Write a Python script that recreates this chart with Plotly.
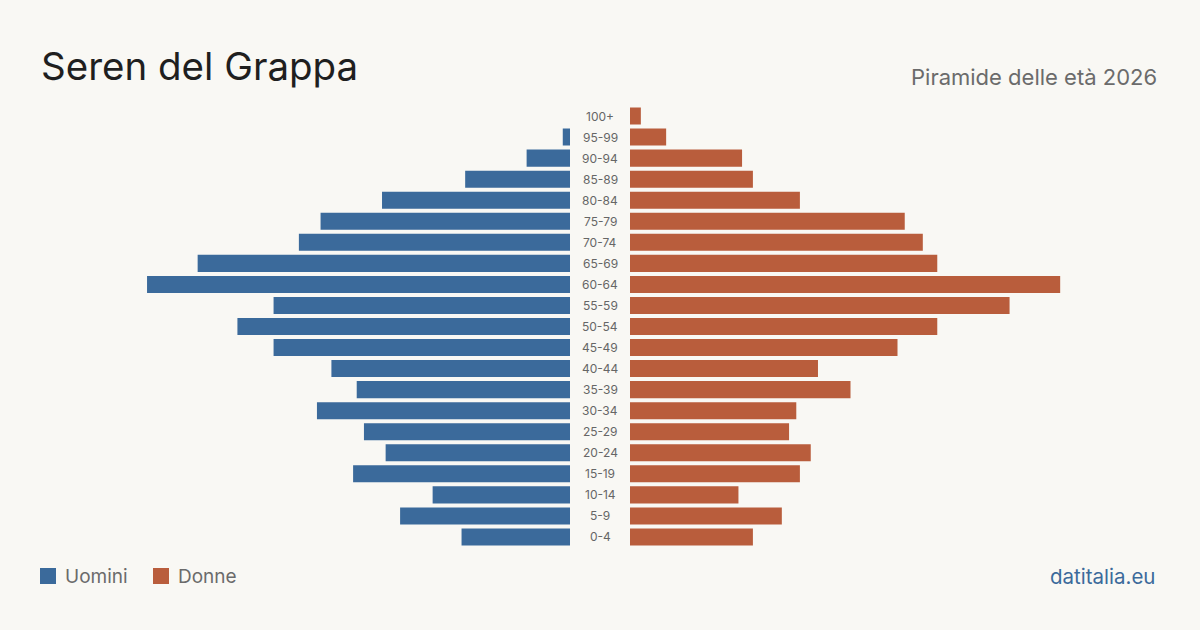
import plotly.graph_objects as go

age_groups = ["0-4", "5-9", "10-14", "15-19", "20-24", "25-29", "30-34", "35-39",
              "40-44", "45-49", "50-54", "55-59", "60-64", "65-69", "70-74",
              "75-79", "80-84", "85-89", "90-94", "95-99", "100+"]
men = [30, 47, 38, 60, 51, 57, 70, 59, 66, 82, 92, 82, 117, 103, 75, 69, 52, 29, 12, 2, 0]
women = [34, 42, 30, 47, 50, 44, 46, 61, 52, 74, 85, 105, 119, 85, 81, 76, 47, 34, 31, 10, 3]

title = "Seren del Grappa"
subtitle = "Piramide delle età 2026"
source = "datitalia.eu"
men_label = "Uomini"
women_label = "Donne"

BLUE = "#3b6a9b"
ORANGE = "#b95d3c"
BG = "#f9f8f4"
FONT = "Inter, Roboto, sans-serif"

W, H = 1200, 630
XMAX = 120
left_end, right_start = 570, 630
px_per_unit = 3.615
span = XMAX * px_per_unit

fig = go.Figure()
fig.add_trace(go.Bar(y=age_groups, x=men, orientation="h", marker_color=BLUE,
                     marker_line_width=0,
                     xaxis="x", yaxis="y", name=men_label, showlegend=False,
                     hoverinfo="x+y"))
fig.add_trace(go.Bar(y=age_groups, x=women, orientation="h", marker_color=ORANGE,
                     marker_line_width=0,
                     xaxis="x2", yaxis="y", name=women_label, showlegend=False,
                     hoverinfo="x+y"))

y_top, y_bot = 105.5, 547.5
fig.update_layout(
    width=W, height=H,
    margin=dict(l=0, r=0, t=0, b=0),
    paper_bgcolor=BG, plot_bgcolor=BG,
    bargap=0.19,
    font=dict(family=FONT),
    xaxis=dict(domain=[(left_end - span) / W, left_end / W], range=[XMAX, 0],
               visible=False, fixedrange=True),
    xaxis2=dict(domain=[right_start / W, (right_start + span) / W], range=[0, XMAX],
                visible=False, anchor="y", fixedrange=True),
    yaxis=dict(domain=[1 - y_bot / H, 1 - y_top / H], type="category",
               categoryorder="array", categoryarray=age_groups,
               visible=False, fixedrange=True),
)

annotations = []
for g in age_groups:
    annotations.append(dict(x=0.5, xref="paper", y=g, yref="y", text=g,
                            showarrow=False, xanchor="center", yanchor="middle",
                            font=dict(size=12, color="#666666", family=FONT)))

annotations.append(dict(x=39 / W, y=1 - 66 / H, xref="paper", yref="paper", text=title,
                        showarrow=False, xanchor="left", yanchor="middle",
                        font=dict(size=38.5, color="#1f1f1f", family=FONT)))
annotations.append(dict(x=1159 / W, y=1 - 77 / H, xref="paper", yref="paper", text=subtitle,
                        showarrow=False, xanchor="right", yanchor="middle",
                        font=dict(size=22, color="#6b6b6b", family=FONT)))
annotations.append(dict(x=1157 / W, y=1 - 576 / H, xref="paper", yref="paper", text=source,
                        showarrow=False, xanchor="right", yanchor="middle",
                        font=dict(size=20.5, color="#3b6a9b", family=FONT)))
annotations.append(dict(x=63 / W, y=1 - 576 / H, xref="paper", yref="paper", text=men_label,
                        showarrow=False, xanchor="left", yanchor="middle",
                        font=dict(size=19, color="#6b6b6b", family=FONT)))
annotations.append(dict(x=176 / W, y=1 - 576 / H, xref="paper", yref="paper", text=women_label,
                        showarrow=False, xanchor="left", yanchor="middle",
                        font=dict(size=19, color="#6b6b6b", family=FONT)))

shapes = [
    dict(type="rect", xref="paper", yref="paper", x0=40 / W, x1=56 / W,
         y0=1 - 584 / H, y1=1 - 568 / H, fillcolor=BLUE, line=dict(width=0)),
    dict(type="rect", xref="paper", yref="paper", x0=153 / W, x1=169 / W,
         y0=1 - 584 / H, y1=1 - 568 / H, fillcolor=ORANGE, line=dict(width=0)),
]

fig.update_layout(annotations=annotations, shapes=shapes)
fig.write_html("out.html", config={"displayModeBar": False})
